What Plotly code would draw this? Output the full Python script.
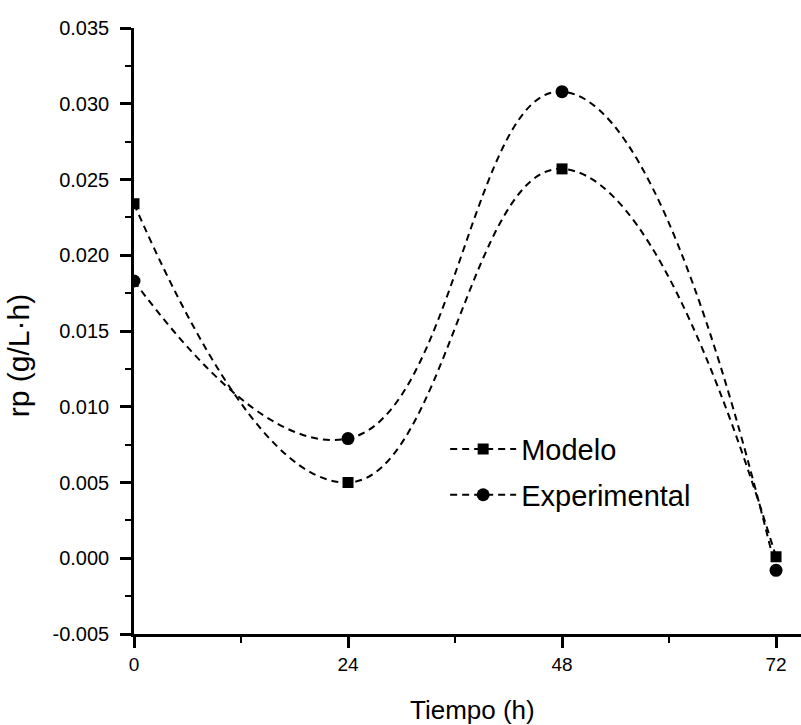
import plotly.graph_objects as go

# Data
tiempo = [0, 24, 48, 72]
modelo = [0.0234, 0.0050, 0.0257, 0.0001]
experimental = [0.0183, 0.0079, 0.0308, -0.0008]

y_ticks = [-0.005, 0.000, 0.005, 0.010, 0.015, 0.020, 0.025, 0.030, 0.035]
y_ticktext = ["-0.005", "0.000", "0.005", "0.010", "0.015", "0.020", "0.025", "0.030", "0.035"]
x_ticks = [0, 24, 48, 72]

FONT = "Liberation Sans, Arial, sans-serif"

fig = go.Figure()
fig.add_trace(go.Scatter(
    x=tiempo, y=modelo, name="Modelo", mode="lines+markers", legendgroup="a",
    line=dict(color="black", width=2, dash="7px,5px", shape="spline", smoothing=1.3),
    marker=dict(symbol="square", size=11, color="black"),
))
fig.add_trace(go.Scatter(
    x=tiempo, y=experimental, name="Experimental", mode="lines+markers", legendgroup="b",
    line=dict(color="black", width=2, dash="7px,5px", shape="spline", smoothing=1.3),
    marker=dict(symbol="circle", size=13, color="black"),
))

fig.update_layout(
    width=801, height=725,
    margin=dict(l=134, r=0, t=28, b=91),
    paper_bgcolor="white", plot_bgcolor="white",
    font=dict(family=FONT, color="black"),
    showlegend=True,
    legend=dict(
        x=0.4665, y=0.347, xanchor="left", yanchor="top",
        bgcolor="rgba(0,0,0,0)", font=dict(size=29, family=FONT),
        tracegroupgap=5, itemwidth=66,
    ),
    annotations=[
        dict(text="Tiempo (h)", xref="paper", yref="paper", x=0.508, y=-0.125,
             xanchor="center", yanchor="middle", showarrow=False,
             font=dict(size=26, family=FONT)),
        dict(text="rp (g/L·h)", xref="paper", yref="paper", x=-0.174, y=0.46,
             xanchor="center", yanchor="middle", showarrow=False, textangle=-90,
             font=dict(size=30, family=FONT)),
    ],
)
fig.update_xaxes(
    range=[0, 74.8], tickvals=x_ticks, ticktext=[str(v) for v in x_ticks],
    showline=True, linecolor="black", linewidth=2.5, mirror=False,
    ticks="outside", ticklen=11, tickwidth=2.5, tickcolor="black",
    minor=dict(dtick=12, tick0=0, ticks="outside", ticklen=6, tickwidth=2, tickcolor="black", showgrid=False),
    showgrid=False, zeroline=False,
    tickfont=dict(size=19, family=FONT),
)
fig.update_yaxes(
    range=[-0.005, 0.035], tickvals=y_ticks, ticktext=y_ticktext,
    showline=True, linecolor="black", linewidth=2.5, mirror=False,
    ticks="outside", ticklen=11, tickwidth=2.5, tickcolor="black",
    minor=dict(dtick=0.0025, tick0=0, ticks="outside", ticklen=6, tickwidth=2, tickcolor="black", showgrid=False),
    showgrid=False, zeroline=False,
    tickfont=dict(size=20, family=FONT), ticklabelstandoff=7,
)

fig.write_html("out.html")
